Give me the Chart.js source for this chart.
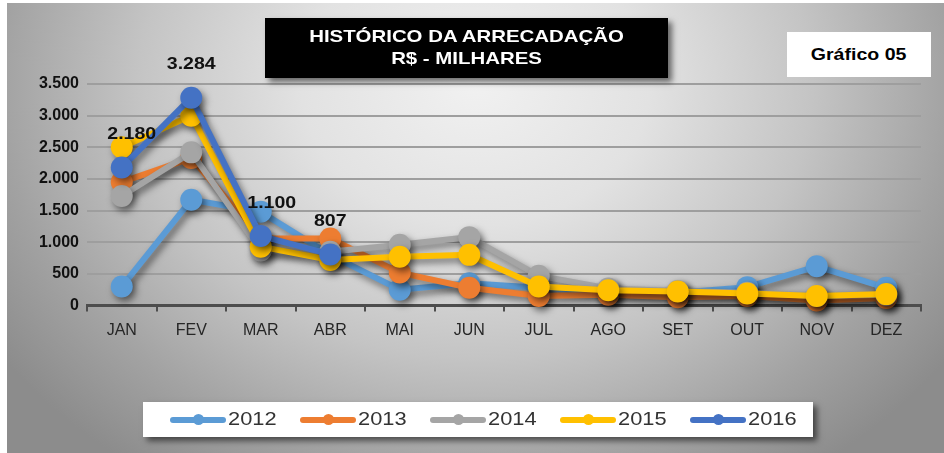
<!DOCTYPE html>
<html><head><meta charset="utf-8">
<script src="https://cdn.jsdelivr.net/npm/chart.js@4/dist/chart.umd.min.js"></script>
<style>
html,body{margin:0;padding:0;background:#fff;}
#wrap{position:relative;width:944px;height:453px;overflow:hidden;font-family:"Liberation Sans",Arial,sans-serif;}
#bg{position:absolute;left:7px;top:3px;width:937px;height:450px;
 background:radial-gradient(ellipse 62% 105% at 50% 18%, #f1f1f1 0%, #e2e2e2 30%, #c4c4c4 58%, #a2a2a2 82%, #8c8c8c 100%);}
canvas{position:absolute;left:0;top:0;}
#title{position:absolute;left:265px;top:18px;width:403px;height:60px;background:#000;color:#fff;
 font-weight:bold;font-size:17px;line-height:22px;text-align:center;box-shadow:4px 4px 6px rgba(0,0,0,.55);
 display:flex;flex-direction:column;justify-content:center;}
#title span{display:block;transform:scaleX(1.2);}
#tag{position:absolute;left:787px;top:32px;width:144px;height:45px;background:#fff;color:#000;
 font-weight:bold;font-size:17px;line-height:45px;text-align:center;}
#tag span{display:inline-block;transform:scaleX(1.15);}
#legend{position:absolute;left:143px;top:402px;width:670px;height:35px;background:#fff;
 box-shadow:4px 4px 6px rgba(0,0,0,.55);}
.li{position:absolute;top:0;height:35px;}
.li .ln{position:absolute;top:15px;left:0;width:56px;height:6px;border-radius:3px;}
.li .dt{position:absolute;top:12px;left:23px;width:11px;height:11px;border-radius:50%;}
.li .tx{position:absolute;left:58px;top:6px;font-size:19px;line-height:22px;color:#333;transform-origin:left center;transform:scaleX(1.15);white-space:nowrap;}
</style></head>
<body>
<div id="wrap">
 <div id="bg"></div>
 <canvas id="c" width="944" height="453"></canvas>
 <div id="title"><span>HISTÓRICO DA ARRECADAÇÃO</span><span>R$ - MILHARES</span></div>
 <div id="tag"><span>Gráfico 05</span></div>
 <div id="legend"></div>
</div>
<script>
const months = ["JAN","FEV","MAR","ABR","MAI","JUN","JUL","AGO","SET","OUT","NOV","DEZ"];
const years = ["2012","2013","2014","2015","2016"];
const v2012 = [300, 1670, 1480, 800, 250, 350, 280, 230, 200, 290, 620, 280];
const v2013 = [1950, 2330, 1060, 1060, 520, 280, 150, 170, 130, 150, 80, 120];
const v2014 = [1730, 2420, 870, 850, 960, 1080, 470, 270, 230, 200, 150, 170];
const v2015 = [2500, 3000, 930, 720, 770, 800, 300, 240, 220, 190, 150, 180];
const v2016 = [2180, 3284, 1100, 807, null, null, null, null, null, null, null, null];
const yTicks = [0, 500, 1000, 1500, 2000, 2500, 3000, 3500];
const colors = ["#5B9BD5", "#ED7D31", "#A5A5A5", "#FFC000", "#4472C4"];
const series = [v2012, v2013, v2014, v2015, v2016];

const fmt = v => v.toLocaleString('pt-BR');

const shadowPlugin = {
  id: 'shadow',
  beforeDatasetDraw(chart){ const c = chart.ctx; c.save(); c.shadowColor='rgba(0,0,0,0.5)'; c.shadowBlur=7; c.shadowOffsetX=3; c.shadowOffsetY=4; },
  afterDatasetDraw(chart){ chart.ctx.restore(); }
};
const labelPlugin = {
  id: 'vlabels',
  afterDatasetsDraw(chart){
    const idx = 4, meta = chart.getDatasetMeta(idx), c = chart.ctx;
    const dx = [10, 0, 11, 0];
    c.save();
    c.font = 'bold 17px "Liberation Sans", Arial, sans-serif';
    c.fillStyle = '#111'; c.textAlign = 'center'; c.textBaseline = 'middle';
    series[idx].forEach((v, i) => {
      if (v == null) return;
      const p = meta.data[i];
      c.save(); c.translate(p.x + (dx[i]||0), p.y - 33); c.scale(1.15, 1);
      c.fillText(fmt(v), 0, 0); c.restore();
    });
    c.restore();
  }
};

new Chart(document.getElementById('c'), {
  type: 'line',
  data: {
    labels: months,
    datasets: years.map((y, i) => ({
      label: y, data: series[i], borderColor: colors[i], backgroundColor: colors[i],
      pointBackgroundColor: colors[i], pointBorderColor: colors[i], borderWidth: 6,
      pointRadius: 11, pointBorderWidth: 0, tension: 0, clip: false, order: 5 - i, spanGaps: false
    }))
  },
  options: {
    responsive: false, animation: false, events: [],
    layout: { padding: { top: 84, right: 23, left: 0, bottom: 0 } },
    plugins: { legend: { display: false }, tooltip: { enabled: false }, title: { display: false } },
    scales: {
      x: {
        offset: true,
        grid: { display: true, drawOnChartArea: false, drawTicks: true, tickLength: 6, color: '#4d4d4d', lineWidth: 2, offset: true },
        border: { display: true, color: '#4d4d4d', width: 3 },
        ticks: { color: '#262626', font: { size: 16, family: '"Liberation Sans", Arial, sans-serif' }, padding: 9, maxRotation: 0 },
        afterFit: s => { s.height = 147.5; }
      },
      y: {
        min: 0, max: 3500,
        afterBuildTicks: s => { s.ticks = yTicks.map(v => ({ value: v })); },
        ticks: { callback: v => fmt(v), color: '#111', font: { size: 16, weight: 'bold', family: '"Liberation Sans", Arial, sans-serif' }, padding: 8 },
        grid: { color: '#9e9e9e', lineWidth: 2, drawTicks: false },
        border: { display: false },
        afterFit: s => { s.width = 87; }
      }
    }
  },
  plugins: [shadowPlugin, labelPlugin]
});

// legend built from the same arrays
const lg = document.getElementById('legend');
years.forEach((y, i) => {
  const d = document.createElement('div');
  d.className = 'li'; d.style.left = (27 + i * 130) + 'px';
  d.innerHTML = '<div class="ln" style="background:' + colors[i] + '"></div><div class="dt" style="background:' + colors[i] + '"></div><div class="tx">' + y + '</div>';
  lg.appendChild(d);
});
</script>
</body></html>
